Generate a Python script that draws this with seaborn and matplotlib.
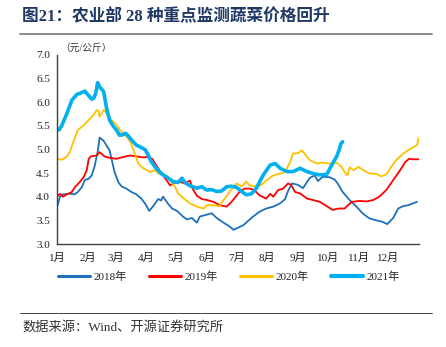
import matplotlib
matplotlib.use("Agg")
import matplotlib.pyplot as plt
from matplotlib.lines import Line2D
import seaborn as sns
import pandas as pd

# ---- data (day of year, price 元/公斤) ----
day_2018 = [0,3,6,13,18,21,25,28,32,35,38,41,43,47,50,53,55,58,62,65,70,75,80,85,89,93,97,102,105,107,
            112,116,121,127,131,136,141,144,151,156,161,168,174,178,181,188,196,204,211,218,225,230,233,237,
            243,248,255,260,263,268,275,280,283,288,295,302,308,315,322,328,333,339,344,349,354,359,363]
val_2018 = [3.77,4.0,4.05,4.06,4.05,4.1,4.2,4.35,4.38,4.45,4.65,4.95,5.25,5.18,5.08,4.98,4.8,4.52,4.3,4.22,
            4.17,4.1,4.05,3.96,3.85,3.7,3.8,3.95,3.92,4.0,3.85,3.75,3.7,3.58,3.52,3.55,3.45,3.58,3.62,3.65,
            3.55,3.45,3.37,3.3,3.33,3.4,3.55,3.68,3.75,3.79,3.86,3.95,4.12,4.28,4.25,4.18,4.4,4.45,4.33,4.42,
            4.41,4.36,4.28,4.1,3.93,3.79,3.65,3.54,3.5,3.47,3.42,3.55,3.75,3.8,3.82,3.86,3.89]

day_2019 = [0,3,6,11,15,18,23,27,30,32,34,40,43,48,53,60,67,74,80,87,91,96,101,107,114,119,124,129,134,137,
            141,146,151,158,164,171,176,181,184,189,194,199,204,211,215,218,223,228,233,236,240,245,252,258,
            265,272,278,284,290,297,305,312,319,325,332,339,346,351,355,358,365]
val_2019 = [4.0,4.06,4.0,4.06,4.1,4.2,4.31,4.42,4.56,4.8,4.85,4.87,4.94,4.85,4.82,4.8,4.84,4.87,4.85,4.83,
            4.84,4.8,4.63,4.45,4.24,4.3,4.31,4.28,4.34,4.16,4.02,3.95,3.93,3.89,3.82,3.79,3.89,4.02,4.1,4.17,
            4.17,4.14,4.03,3.96,4.06,4.0,4.14,4.17,4.28,4.25,4.1,4.07,3.96,3.93,3.89,3.8,3.72,3.75,3.75,3.89,
            3.91,3.9,3.93,4.0,4.14,4.35,4.56,4.73,4.8,4.79,4.79]

day_2020 = [0,5,10,13,16,21,27,32,37,40,42,43,47,48,52,57,60,65,70,74,77,82,87,94,99,102,109,114,119,122,
            128,134,141,148,151,158,164,168,173,178,181,186,191,194,201,206,211,218,225,230,235,238,243,247,
            250,255,262,267,275,282,287,290,293,295,299,304,309,315,322,327,332,337,342,349,354,359,363,365]
val_2020 = [4.8,4.78,4.85,4.95,5.13,5.41,5.51,5.62,5.73,5.83,5.8,5.69,5.83,5.82,5.69,5.58,5.51,5.37,5.27,5.16,
            4.99,4.7,4.6,4.52,4.56,4.49,4.45,4.35,4.21,4.07,3.96,3.86,3.79,3.75,3.82,3.82,3.8,3.93,4.07,4.21,
            4.28,4.22,4.32,4.24,4.21,4.25,4.34,4.45,4.49,4.52,4.73,4.91,4.92,4.98,4.9,4.77,4.7,4.72,4.7,4.72,
            4.63,4.52,4.45,4.62,4.56,4.63,4.56,4.49,4.48,4.43,4.47,4.63,4.77,4.91,4.98,5.04,5.09,5.25]

day_2021 = [2,5,10,15,20,25,28,30,33,35,37,39,41,43,47,50,53,57,60,63,65,69,72,75,80,85,89,92,95,100,
            105,111,117,122,126,129,134,141,146,151,156,161,166,171,176,181,186,191,196,201,208,215,220,225,
            232,238,245,252,258,265,272,277,282,285,286,288]
val_2021 = [5.41,5.51,5.76,6.04,6.16,6.2,6.23,6.18,6.11,6.06,6.08,6.18,6.41,6.32,6.22,5.87,5.62,5.48,5.41,5.3,
            5.3,5.34,5.28,5.2,5.09,5.04,4.99,4.88,4.74,4.6,4.49,4.41,4.32,4.3,4.39,4.3,4.23,4.18,4.21,4.14,
            4.15,4.11,4.12,4.21,4.22,4.2,4.11,4.04,4.06,4.18,4.46,4.67,4.7,4.6,4.53,4.53,4.6,4.53,4.49,4.46,
            4.47,4.67,4.85,5.02,5.11,5.16]

series_names = ["2018年", "2019年", "2020年", "2021年"]
month_starts = [0, 31, 59, 90, 120, 151, 181, 212, 243, 273, 304, 334, 365]
month_labels = ["1月", "2月", "3月", "4月", "5月", "6月", "7月", "8月", "9月", "10月", "11月", "12月", ""]
y_ticks = [3.0, 3.5, 4.0, 4.5, 5.0, 5.5, 6.0, 6.5, 7.0]

title = "图21：农业部 28 种重点监测蔬菜价格回升"
unit = "（元/公斤）"
source = "数据来源：Wind、开源证券研究所"

# ---- style ----
sns.set_style("white")
FAM = ["Liberation Serif", "Noto Sans CJK SC", "DejaVu Sans"]
plt.rcParams["font.family"] = FAM

colors = ["#1F70BA", "#FF0000", "#FFC000", "#00B0F0"]
widths = [1.3, 1.3, 1.3, 2.6]

fig = plt.figure(figsize=(4.46, 3.47), dpi=100)
ax = fig.add_axes([57 / 446, 1 - 244 / 347, (419 - 57) / 446, (244 - 54.7) / 347])

data = [(day_2018, val_2018), (day_2019, val_2019), (day_2020, val_2020), (day_2021, val_2021)]
for (d, v), name, c, w in zip(data, series_names, colors, widths):
    df = pd.DataFrame({"day": d, "price": v})
    sns.lineplot(data=df, x="day", y="price", ax=ax, color=c, linewidth=w, label=name, legend=False)

ax.set_xlim(0, 365)
ax.set_ylim(3.0, 7.0)
ax.set_xticks(month_starts)
ax.set_xticklabels(month_labels)
ax.set_yticks(y_ticks)
ax.set_yticklabels([f"{t:.1f}" for t in y_ticks])
ax.set_xlabel("")
ax.set_ylabel("")
for s in ["top", "right"]:
    ax.spines[s].set_visible(False)
for s in ["left", "bottom"]:
    ax.spines[s].set_color("#404040")
    ax.spines[s].set_linewidth(1.0)
ax.tick_params(axis="x", direction="out", length=2.5, width=0.8, color="#404040",
               labelsize=8, pad=4, labelcolor="#222222")
ax.tick_params(axis="y", direction="out", length=3, width=0.8, color="#404040",
               labelsize=8, pad=2, labelcolor="#222222")

handles = [Line2D([0], [0], color=c, lw=2.2 if i < 3 else 3.0) for i, c in enumerate(colors)]
fig.legend(handles, series_names, loc="center", bbox_to_anchor=(229 / 446, 1 - 277 / 347),
           ncol=4, frameon=False, fontsize=8, handlelength=2.9, handletextpad=0.3,
           columnspacing=2.0)

fig.text(60 / 446, 1 - 48 / 347, unit, fontsize=7, color="#333333", va="center", ha="left")
fig.text(22 / 446, 1 - 17 / 347, title, fontsize=12, fontweight="bold", color="#1F3864",
         va="center", ha="left")
fig.add_artist(Line2D([20 / 446, 432 / 446], [1 - 34 / 347] * 2, color="#808080", lw=1.3,
                      transform=fig.transFigure))
fig.add_artist(Line2D([20 / 446, 432 / 446], [1 - 313 / 347] * 2, color="#404040", lw=0.7,
                      transform=fig.transFigure))
fig.text(22 / 446, 1 - 327 / 347, source, fontsize=9.5, color="#333333", va="center", ha="left")

fig.savefig("out.png", dpi=100)
